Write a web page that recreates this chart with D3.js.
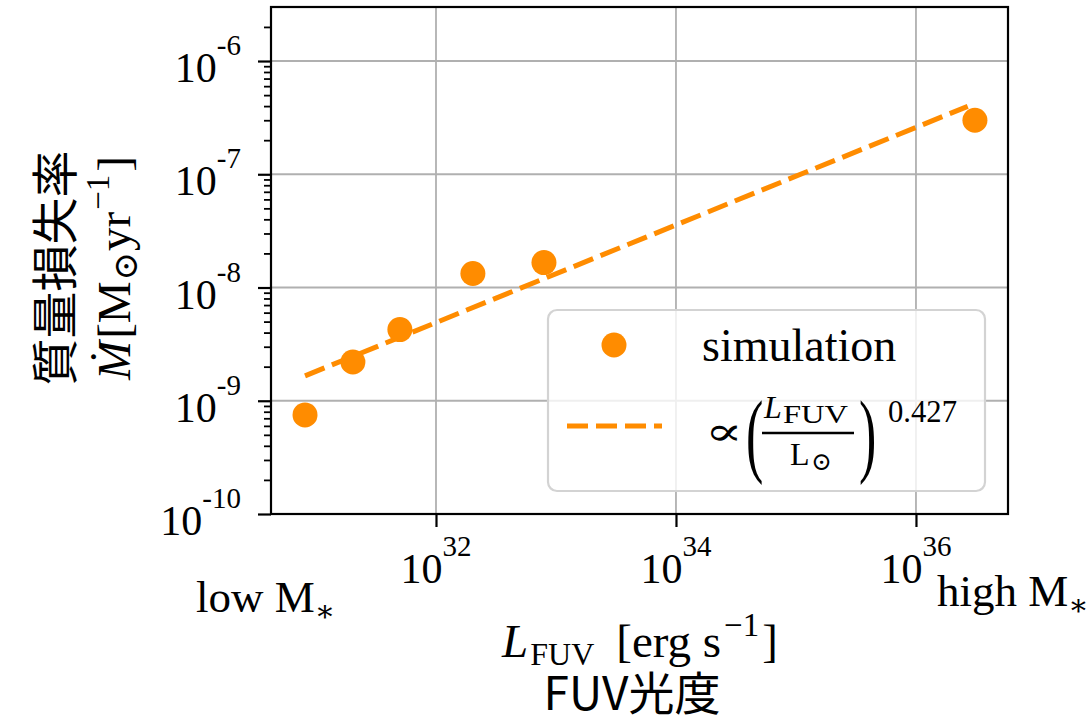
<!DOCTYPE html>
<html>
<head>
<meta charset="utf-8">
<script src="https://cdn.jsdelivr.net/npm/d3@7"></script>
<style>
  html, body { margin: 0; padding: 0; background: #fff; }
  svg text { font-family: "Liberation Serif", "DejaVu Serif", serif; fill: #000; }
  .cjk { font-family: "Noto Sans CJK JP", "Noto Sans", sans-serif; }
</style>
</head>
<body>
<div id="chart"></div>
<script>
// simulation points: FUV luminosity [erg/s] and mass-loss rate [Msun/yr]
var lumFUV = [8.1e30, 2.03e31, 5.0e31, 2.03e32, 7.94e32, 3.1e36];
var massLoss = [7.5e-10, 2.2e-9, 4.25e-9, 1.33e-8, 1.66e-8, 3.0e-7];
// fitted power law  ∝ L^0.427 (end points as drawn)
var fitLum = [8.1e30, 2.7e36];
var fitMassLoss = [1.66e-9, 3.98e-7];
var fitExponent = "0.427";
var xTickExp = [32, 34, 36];
var yTickExp = [-6, -7, -8, -9, -10];

var width = 1092, height = 723;
var orange = "#ff8c00";
var pL = 271, pR = 1008, pT = 7, pB = 514;

var svg = d3.select("#chart").append("svg")
  .attr("width", width).attr("height", height);

var x = d3.scaleLog().domain([Math.pow(10, 30.625), Math.pow(10, 36.767)]).range([pL, pR]);
var y = d3.scaleLog().domain([1e-10, Math.pow(10, -5.523)]).range([pB, pT]);

var xMajor = xTickExp.map(function(e) { return Math.pow(10, e); });
var yMajor = yTickExp.map(function(e) { return Math.pow(10, e); });
var yMinor = [];
for (var e = -10; e <= -6; e++) {
  for (var m = 2; m <= 9; m++) {
    var v = m * Math.pow(10, e);
    if (v <= y.domain()[1]) yMinor.push(v);
  }
}

// grid
var grid = svg.append("g");
grid.selectAll(".gx").data(xMajor).enter().append("line")
  .attr("x1", function(d) { return x(d); }).attr("x2", function(d) { return x(d); })
  .attr("y1", pT).attr("y2", pB)
  .attr("stroke", "#b0b0b0").attr("stroke-width", 1.8);
grid.selectAll(".gy").data(yMajor).enter().append("line")
  .attr("y1", function(d) { return y(d); }).attr("y2", function(d) { return y(d); })
  .attr("x1", pL).attr("x2", pR)
  .attr("stroke", "#b0b0b0").attr("stroke-width", 1.8);

// fit line
svg.append("path")
  .datum(d3.zip(fitLum, fitMassLoss))
  .attr("d", d3.line().x(function(d) { return x(d[0]); }).y(function(d) { return y(d[1]); }))
  .attr("fill", "none").attr("stroke", orange).attr("stroke-width", 5)
  .attr("stroke-dasharray", "21,8");

// points
svg.selectAll(".pt").data(d3.zip(lumFUV, massLoss)).enter().append("circle")
  .attr("cx", function(d) { return x(d[0]); })
  .attr("cy", function(d) { return y(d[1]); })
  .attr("r", 12.5).attr("fill", orange);

// axes (ticks only, labels drawn below)
var xAxis = svg.append("g").attr("transform", "translate(0," + pB + ")")
  .call(d3.axisBottom(x).tickValues(xMajor).tickSize(13).tickFormat(""));
var yAxis = svg.append("g").attr("transform", "translate(" + pL + ",0)")
  .call(d3.axisLeft(y).tickValues(yMajor).tickSize(13).tickFormat(""));
var yAxisMinor = svg.append("g").attr("transform", "translate(" + pL + ",0)")
  .call(d3.axisLeft(y).tickValues(yMinor).tickSize(7).tickFormat(""));
[xAxis, yAxis, yAxisMinor].forEach(function(g) {
  g.select(".domain").remove();
  g.selectAll(".tick line").attr("stroke", "#000").attr("stroke-width", 2.2);
});
yAxisMinor.selectAll(".tick line").attr("stroke-width", 1.8);

// frame
svg.append("rect").attr("x", pL).attr("y", pT)
  .attr("width", pR - pL).attr("height", pB - pT)
  .attr("fill", "none").attr("stroke", "#000").attr("stroke-width", 2.2);

// tick labels
function powLabel(sel, supText) {
  sel.append("tspan").attr("font-size", 42).text("10");
  sel.append("tspan").attr("font-size", 29).attr("dy", -27).text(supText);
}
svg.selectAll(".xl").data(xTickExp).enter().append("text")
  .attr("x", function(d) { return x(Math.pow(10, d)); })
  .attr("y", 583).attr("text-anchor", "middle")
  .each(function(d) { powLabel(d3.select(this), String(d)); });
svg.selectAll(".yl").data(yTickExp).enter().append("text")
  .attr("x", 241)
  .attr("y", function(d) { return y(Math.pow(10, d)) + 21; })
  .attr("text-anchor", "end")
  .each(function(d) { powLabel(d3.select(this), "-" + String(-d)); });

// low / high M*
var low = svg.append("text").attr("x", 196).attr("y", 612).attr("font-size", 45);
low.append("tspan").text("low M");
low.append("tspan").attr("font-size", 30).attr("dy", 9).text("∗");
var high = svg.append("text").attr("x", 937).attr("y", 606).attr("font-size", 45);
high.append("tspan").text("high M");
high.append("tspan").attr("font-size", 30).attr("dy", 9).text("∗");

// x label
var xl = svg.append("text").attr("x", 640).attr("y", 657).attr("text-anchor", "middle").attr("font-size", 47);
xl.append("tspan").attr("font-style", "italic").text("L");
xl.append("tspan").attr("font-size", 32).attr("dy", 8).attr("dx", 2).text("FUV");
xl.append("tspan").attr("dy", -8).attr("dx", 22).text("[erg s");
xl.append("tspan").attr("font-size", 33).attr("dy", -21).attr("dx", 3).text("−1");
xl.append("tspan").attr("dy", 21).attr("dx", 3).text("]");
svg.append("text").attr("class", "cjk").attr("x", 632).attr("y", 710)
  .attr("text-anchor", "middle").attr("font-size", 46).text("FUV光度");

// y label
var yg = svg.append("g").attr("transform", "translate(0,268) rotate(-90)");
yg.append("text").attr("class", "cjk").attr("x", 0).attr("y", 72)
  .attr("text-anchor", "middle").attr("font-size", 47).text("質量損失率");
var yl = yg.append("text").attr("x", 0).attr("y", 130).attr("text-anchor", "middle").attr("font-size", 47);
yl.append("tspan").attr("font-style", "italic").text("Ṁ");
yl.append("tspan").attr("dx", 2).text("[M");
yl.append("tspan").attr("font-size", 34).attr("dy", 7).attr("dx", 1).text("⊙");
yl.append("tspan").attr("dy", -7).attr("dx", 1).text("yr");
yl.append("tspan").attr("font-size", 33).attr("dy", -21).attr("dx", 2).text("−1");
yl.append("tspan").attr("dy", 21).attr("dx", 3).text("]");

// legend
var lg = svg.append("g");
lg.append("rect").attr("x", 548).attr("y", 310).attr("width", 437).attr("height", 181)
  .attr("rx", 9).attr("fill", "#fff").attr("fill-opacity", 0.8)
  .attr("stroke", "#d3d3d3").attr("stroke-width", 2.2);
lg.append("circle").attr("cx", 614).attr("cy", 345).attr("r", 12.5).attr("fill", orange);
lg.append("text").attr("x", 702).attr("y", 361).attr("font-size", 46).text("simulation");
lg.append("line").attr("x1", 567).attr("x2", 662).attr("y1", 426).attr("y2", 426)
  .attr("stroke", orange).attr("stroke-width", 5).attr("stroke-dasharray", "21,8");
lg.append("text").attr("transform", "translate(705,445) scale(1.4,1)").attr("font-size", 40)
  .style("font-family", "'DejaVu Serif', serif").text("∝");
lg.append("text").attr("transform", "translate(746,465) scale(1,1.8)")
  .attr("font-size", 52).text("(");
lg.append("text").attr("transform", "translate(859,465) scale(1,1.8)")
  .attr("font-size", 52).text(")");
lg.append("text").attr("x", 764).attr("y", 418).attr("font-size", 32)
  .attr("font-style", "italic").text("L");
lg.append("text").attr("x", 783).attr("y", 423).attr("font-size", 25)
  .attr("textLength", 65).attr("lengthAdjust", "spacingAndGlyphs").text("FUV");
lg.append("line").attr("x1", 762).attr("x2", 854).attr("y1", 433).attr("y2", 433)
  .attr("stroke", "#000").attr("stroke-width", 2.5);
lg.append("text").attr("x", 790).attr("y", 465).attr("font-size", 32).text("L");
lg.append("text").attr("x", 811).attr("y", 470).attr("font-size", 25).text("⊙");
lg.append("text").attr("x", 888).attr("y", 422).attr("font-size", 31)
  .attr("textLength", 69).attr("lengthAdjust", "spacingAndGlyphs").text(fitExponent);
</script>
</body>
</html>
